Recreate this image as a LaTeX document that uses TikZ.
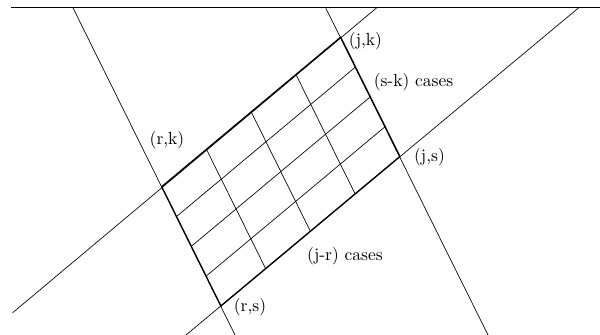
\documentclass[tikz,border=0pt]{standalone}
\usetikzlibrary{calc}
\begin{document}
\begin{tikzpicture}[x=0.6pt,y=-0.6pt,
  thinline/.style={line width=0.4pt},
  thickline/.style={line width=0.8pt},
  lbl/.style={inner sep=0pt,font=\fontsize{10.5}{12}\selectfont}]
\useasboundingbox (0,0) rectangle (600,335);
% corners
\coordinate (rk) at (161.7,186.7);
\coordinate (jk) at (340.7,37.2);
\coordinate (rs) at (220.9,306);
\coordinate (js) at (399.9,156.5);
% free ends of extension lines
\coordinate (tl0) at (11,7.5);
\coordinate (tl1) at (600,7.5);
\coordinate (la) at (72.8,7.5);
\coordinate (lb) at (235,335);
\coordinate (ra) at (325.5,7.5);
\coordinate (rb) at (488,335);
\coordinate (ua) at (377,7.5);
\coordinate (ub) at (12.7,312.7);
\coordinate (da) at (579,7.5);
\coordinate (db) at (186,335);
% top line
\draw[thickline] (tl0) -- (tl1);
% extension lines
\draw[thinline] (la) -- (lb);
\draw[thinline] (ra) -- (rb);
\draw[thinline] (ua) -- (ub);
\draw[thinline] (da) -- (db);
% grid
\foreach \i in {1,2,3} {
  \draw[thinline] ($(rk)!\i/4!(rs)$) -- ($(jk)!\i/4!(js)$);
  \draw[thinline] ($(rk)!\i/4!(jk)$) -- ($(rs)!\i/4!(js)$);
}
% parallelogram boundary
\draw[thickline] (rk) -- (jk) -- (js) -- (rs) -- cycle;
% labels
\node[lbl] (Ljk) at (365.5,41) {(j,k)};
\node[lbl] (Lsk) at (413.5,82) {(s-k) cases};
\node[lbl] (Ljs) at (429.5,157) {(j,s)};
\node[lbl] (Lrk) at (167,140) {(r,k)};
\node[lbl] (Ljr) at (345,256) {(j-r) cases};
\node[lbl] (Lrs) at (250,307) {(r,s)};
\end{tikzpicture}
\end{document}
